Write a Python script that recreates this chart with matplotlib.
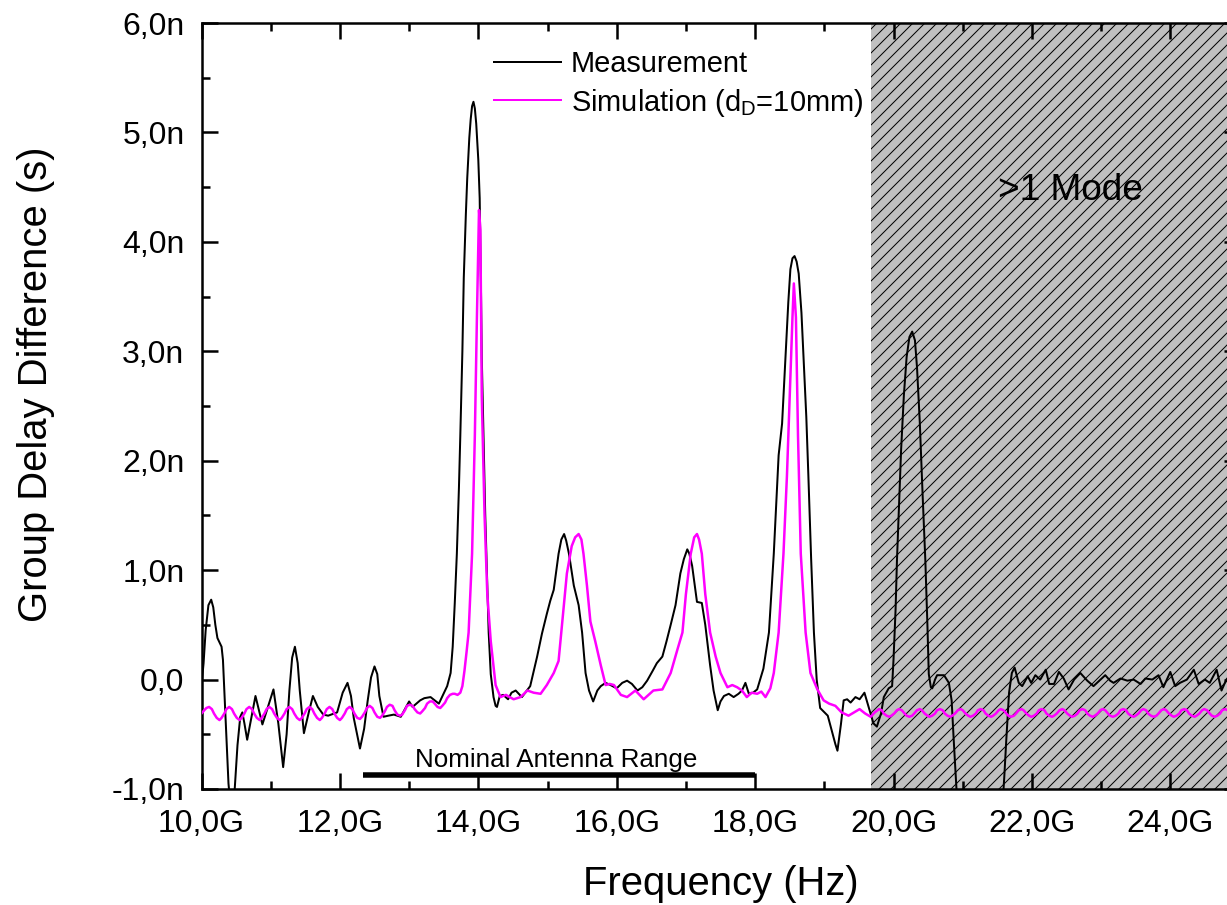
import numpy as np
import matplotlib
matplotlib.use("Agg")
import matplotlib.pyplot as plt

# ---------------- data (GHz, ns) ----------------
meas_freq = [10.00, 10.03, 10.06, 10.10, 10.14, 10.17, 10.20, 10.23, 10.26, 10.29, 10.31, 10.33,
             10.36, 10.39, 10.44, 10.48, 10.52, 10.56, 10.59, 10.62, 10.66, 10.72, 10.78, 10.83,
             10.88, 10.96, 11.04, 11.11, 11.18, 11.23, 11.27, 11.31, 11.35, 11.39, 11.42, 11.48,
             11.55, 11.61, 11.68, 11.76, 11.83, 11.96, 12.04, 12.11, 12.16, 12.20, 12.29, 12.35,
             12.40, 12.45, 12.50, 12.54, 12.57, 12.63, 12.70, 12.78, 12.88, 13.00, 13.05, 13.16,
             13.22, 13.31, 13.43, 13.55, 13.60, 13.63, 13.66, 13.69, 13.72, 13.74, 13.77, 13.79,
             13.82, 13.84, 13.87, 13.89, 13.91, 13.93, 13.95, 13.97, 14.00, 14.02, 14.04, 14.05,
             14.08, 14.10, 14.13, 14.15, 14.18, 14.22, 14.25, 14.27, 14.31, 14.36, 14.43, 14.48,
             14.54, 14.63, 14.75, 14.85, 14.92, 14.99, 15.04, 15.09, 15.16, 15.20, 15.24, 15.27,
             15.31, 15.38, 15.45, 15.50, 15.55, 15.60, 15.66, 15.72, 15.77, 15.84, 15.91, 16.00,
             16.08, 16.15, 16.22, 16.30, 16.37, 16.44, 16.52, 16.58, 16.66, 16.72, 16.78, 16.85,
             16.92, 16.97, 17.02, 17.05, 17.09, 17.16, 17.23, 17.28, 17.35, 17.40, 17.46, 17.50,
             17.55, 17.62, 17.69, 17.76, 17.81, 17.86, 17.91, 17.97, 18.03, 18.12, 18.20, 18.27,
             18.34, 18.39, 18.44, 18.48, 18.51, 18.54, 18.57, 18.60, 18.63, 18.67, 18.70, 18.74,
             18.77, 18.81, 18.85, 18.89, 18.92, 18.94, 19.05, 19.16, 19.19, 19.24, 19.28, 19.33,
             19.38, 19.45, 19.51, 19.58, 19.64, 19.71, 19.76, 19.82, 19.86, 19.93, 19.98, 20.00,
             20.03, 20.05, 20.08, 20.11, 20.15, 20.19, 20.23, 20.27, 20.31, 20.34, 20.38, 20.42,
             20.46, 20.49, 20.51, 20.54, 20.56, 20.60, 20.63, 20.73, 20.80, 20.84, 20.87, 20.91,
             20.95, 21.05, 21.30, 21.50, 21.57, 21.60, 21.63, 21.67, 21.71, 21.75, 21.81, 21.86,
             21.94, 21.99, 22.05, 22.12, 22.20, 22.25, 22.32, 22.39, 22.46, 22.53, 22.61, 22.70,
             22.80, 22.89, 23.01, 23.06, 23.13, 23.18, 23.28, 23.38, 23.47, 23.57, 23.64, 23.74,
             23.83, 23.90, 24.00, 24.07, 24.14, 24.24, 24.34, 24.41, 24.50, 24.57, 24.67, 24.74,
             24.81, 24.88, 24.95, 25.00]
meas_val = [-0.05, 0.15, 0.45, 0.68, 0.73, 0.66, 0.50, 0.38, 0.34, 0.30, 0.18, -0.10,
            -0.50, -0.95, -1.30, -1.00, -0.60, -0.34, -0.30, -0.40, -0.55, -0.35, -0.15, -0.28,
            -0.41, -0.25, -0.09, -0.40, -0.80, -0.50, -0.10, 0.20, 0.30, 0.15, -0.10, -0.49,
            -0.30, -0.15, -0.25, -0.32, -0.33, -0.30, -0.12, -0.03, -0.15, -0.35, -0.63, -0.45,
            -0.20, 0.02, 0.12, 0.05, -0.15, -0.34, -0.33, -0.32, -0.34, -0.20, -0.25, -0.19,
            -0.17, -0.16, -0.22, -0.06, 0.06, 0.30, 0.70, 1.15, 1.75, 2.23, 3.00, 3.67,
            4.25, 4.58, 4.95, 5.12, 5.24, 5.28, 5.22, 5.08, 4.75, 4.40, 3.50, 2.95,
            2.10, 1.51, 0.85, 0.43, 0.05, -0.16, -0.24, -0.25, -0.15, -0.14, -0.18, -0.12,
            -0.10, -0.16, -0.06, 0.21, 0.42, 0.60, 0.72, 0.82, 1.15, 1.28, 1.33, 1.27,
            1.15, 0.86, 0.68, 0.43, 0.06, -0.10, -0.20, -0.10, -0.06, -0.03, -0.05, -0.08,
            -0.03, -0.01, -0.04, -0.10, -0.07, -0.01, 0.08, 0.15, 0.21, 0.35, 0.50, 0.68,
            0.97, 1.10, 1.19, 1.15, 1.04, 0.71, 0.70, 0.50, 0.13, -0.10, -0.28, -0.20,
            -0.15, -0.13, -0.16, -0.13, -0.10, -0.03, -0.13, -0.12, -0.09, 0.10, 0.43, 1.15,
            2.05, 2.34, 2.95, 3.45, 3.75, 3.85, 3.87, 3.82, 3.71, 3.35, 2.95, 2.40,
            1.86, 1.10, 0.43, 0.00, -0.16, -0.26, -0.33, -0.59, -0.65, -0.41, -0.19, -0.18,
            -0.21, -0.16, -0.18, -0.12, -0.25, -0.40, -0.43, -0.31, -0.16, -0.08, -0.06, 0.18,
            0.64, 1.09, 1.60, 2.10, 2.60, 2.95, 3.13, 3.18, 3.10, 2.85, 2.35, 1.70,
            1.09, 0.50, 0.05, -0.07, -0.08, 0.00, 0.04, 0.04, -0.03, -0.19, -0.55, -1.00,
            -1.60, -2.40, -2.40, -1.80, -1.20, -0.90, -0.55, -0.12, 0.06, 0.11, -0.03, -0.06,
            0.03, -0.03, 0.04, 0.00, 0.09, -0.04, -0.04, 0.07, 0.01, -0.09, 0.00, 0.06,
            -0.01, -0.06, 0.01, 0.04, -0.01, -0.03, 0.01, -0.01, 0.00, -0.04, 0.01, 0.00,
            0.04, -0.07, 0.07, -0.06, -0.03, 0.00, 0.09, -0.04, 0.00, -0.03, 0.09, -0.10,
            0.00, 0.05, -0.02, 0.03]

# simulation: low-frequency ripple part
sim_left_freq = [10.00, 10.04, 10.07, 10.11, 10.15, 10.18, 10.22, 10.26, 10.29, 10.33, 10.36, 10.40,
                 10.44, 10.47, 10.51, 10.55, 10.58, 10.62, 10.65, 10.69, 10.73, 10.76, 10.80, 10.84,
                 10.87, 10.91, 10.94, 10.98, 11.02, 11.05, 11.09, 11.13, 11.16, 11.20, 11.23, 11.27,
                 11.31, 11.34, 11.38, 11.42, 11.45, 11.49, 11.52, 11.56, 11.60, 11.63, 11.67, 11.71,
                 11.74, 11.78, 11.81, 11.85, 11.89, 11.92, 11.96, 12.00, 12.03, 12.07, 12.10, 12.14,
                 12.18, 12.21, 12.25, 12.29, 12.32, 12.36, 12.39, 12.43, 12.47, 12.50, 12.54, 12.58,
                 12.61, 12.65, 12.68, 12.72, 12.76, 12.79, 12.83, 12.87, 12.90, 12.94, 12.97, 13.01,
                 13.05, 13.08, 13.12, 13.16, 13.19, 13.23, 13.26, 13.30, 13.34, 13.37, 13.41, 13.45,
                 13.48, 13.52, 13.55, 13.59, 13.63, 13.66, 13.70, 13.74, 13.77]
sim_left_val = [-0.31, -0.28, -0.26, -0.25, -0.27, -0.31, -0.35, -0.37, -0.35, -0.31, -0.27, -0.25,
                -0.27, -0.31, -0.35, -0.37, -0.35, -0.31, -0.27, -0.25, -0.27, -0.31, -0.35, -0.37,
                -0.35, -0.31, -0.27, -0.25, -0.27, -0.31, -0.35, -0.37, -0.35, -0.31, -0.27, -0.25,
                -0.27, -0.31, -0.35, -0.37, -0.35, -0.31, -0.27, -0.25, -0.27, -0.31, -0.35, -0.37,
                -0.35, -0.31, -0.27, -0.25, -0.27, -0.31, -0.35, -0.37, -0.35, -0.31, -0.27, -0.25,
                -0.27, -0.31, -0.35, -0.36, -0.34, -0.30, -0.26, -0.24, -0.26, -0.30, -0.34, -0.35,
                -0.33, -0.29, -0.25, -0.23, -0.24, -0.28, -0.32, -0.33, -0.32, -0.28, -0.24, -0.23,
                -0.24, -0.27, -0.30, -0.31, -0.29, -0.26, -0.22, -0.20, -0.20, -0.22, -0.25, -0.26,
                -0.24, -0.21, -0.17, -0.14, -0.13, -0.13, -0.14, -0.12, -0.06]

# simulation: resonance part
sim_mid_freq = [13.80, 13.83, 13.86, 13.91, 13.95, 13.98, 14.01, 14.03, 14.05, 14.09, 14.13, 14.18,
                14.25, 14.32, 14.40, 14.51, 14.61, 14.71, 14.80, 14.90, 14.99, 15.09, 15.16, 15.21,
                15.28, 15.35, 15.40, 15.45, 15.49, 15.52, 15.57, 15.62, 15.69, 15.77, 15.84, 15.90,
                15.96, 16.06, 16.15, 16.27, 16.39, 16.53, 16.66, 16.78, 16.88, 16.95, 17.00, 17.07,
                17.12, 17.16, 17.19, 17.23, 17.28, 17.35, 17.43, 17.50, 17.60, 17.67, 17.74, 17.81,
                17.88, 17.95, 18.03, 18.09, 18.15, 18.22, 18.27, 18.34, 18.41, 18.46, 18.50, 18.54,
                18.56, 18.59, 18.62, 18.66, 18.73, 18.80, 18.90, 18.99, 19.07, 19.16, 19.25, 19.35,
                19.43, 19.51, 19.59, 19.67, 19.73]
sim_mid_val = [0.08, 0.25, 0.43, 1.15, 2.23, 3.31, 4.29, 4.11, 2.59, 1.51, 0.78, 0.35,
               -0.05, -0.16, -0.14, -0.18, -0.16, -0.10, -0.12, -0.13, -0.05, 0.06, 0.17, 0.50,
               0.97, 1.22, 1.30, 1.33, 1.28, 1.15, 0.86, 0.53, 0.35, 0.13, -0.05, -0.04,
               -0.05, -0.14, -0.16, -0.10, -0.18, -0.10, -0.09, 0.06, 0.28, 0.43, 0.78, 1.15,
               1.30, 1.33, 1.28, 1.15, 0.78, 0.43, 0.21, 0.06, -0.07, -0.05, -0.07, -0.10,
               -0.16, -0.12, -0.13, -0.11, -0.16, -0.08, 0.06, 0.43, 1.15, 1.86, 2.59, 3.31,
               3.62, 3.31, 2.23, 1.15, 0.43, 0.06, -0.09, -0.19, -0.22, -0.24, -0.30, -0.33,
               -0.30, -0.27, -0.31, -0.34, -0.30]

# simulation: high-frequency ripple part
sim_right_freq = [19.79, 19.83, 19.86, 19.90, 19.94, 19.97, 20.01, 20.05,
                  20.08, 20.12, 20.16, 20.19, 20.23, 20.27, 20.30, 20.34,
                  20.38, 20.41, 20.45, 20.49, 20.52, 20.56, 20.60, 20.63,
                  20.67, 20.71, 20.74, 20.78, 20.82, 20.85, 20.89, 20.93,
                  20.97, 21.00, 21.04, 21.08, 21.11, 21.15, 21.19, 21.22,
                  21.26, 21.30, 21.33, 21.37, 21.41, 21.44, 21.48, 21.52,
                  21.55, 21.59, 21.63, 21.66, 21.70, 21.74, 21.77, 21.81,
                  21.85, 21.88, 21.92, 21.96, 21.99, 22.03, 22.07, 22.10,
                  22.14, 22.18, 22.21, 22.25, 22.29, 22.32, 22.36, 22.40,
                  22.44, 22.47, 22.51, 22.55, 22.58, 22.62, 22.66, 22.69,
                  22.73, 22.77, 22.80, 22.84, 22.88, 22.91, 22.95, 22.99,
                  23.02, 23.06, 23.10, 23.13, 23.17, 23.21, 23.25, 23.28,
                  23.32, 23.36, 23.39, 23.43, 23.47, 23.50, 23.54, 23.58,
                  23.61, 23.65, 23.68, 23.72, 23.76, 23.80, 23.83, 23.87,
                  23.91, 23.94, 23.98, 24.02, 24.05, 24.09, 24.13, 24.16,
                  24.20, 24.24, 24.27, 24.31, 24.35, 24.38, 24.42, 24.46,
                  24.49, 24.53, 24.57, 24.60, 24.64, 24.68, 24.72, 24.75,
                  24.79, 24.83, 24.86, 24.90, 24.94, 24.97, 25.01, 25.05]
sim_right_val = [-0.27, -0.28, -0.31, -0.33, -0.34, -0.33, -0.31, -0.28,
                 -0.27, -0.28, -0.31, -0.33, -0.34, -0.33, -0.31, -0.28,
                 -0.27, -0.28, -0.31, -0.33, -0.34, -0.33, -0.31, -0.28,
                 -0.27, -0.28, -0.31, -0.33, -0.34, -0.33, -0.31, -0.28,
                 -0.27, -0.28, -0.31, -0.33, -0.34, -0.33, -0.31, -0.28,
                 -0.27, -0.28, -0.31, -0.33, -0.34, -0.33, -0.31, -0.28,
                 -0.27, -0.28, -0.31, -0.33, -0.34, -0.33, -0.31, -0.28,
                 -0.27, -0.28, -0.31, -0.33, -0.34, -0.33, -0.31, -0.28,
                 -0.27, -0.28, -0.31, -0.33, -0.34, -0.33, -0.31, -0.28,
                 -0.27, -0.28, -0.31, -0.33, -0.34, -0.33, -0.31, -0.28,
                 -0.27, -0.28, -0.31, -0.33, -0.34, -0.33, -0.31, -0.28,
                 -0.27, -0.28, -0.31, -0.33, -0.34, -0.33, -0.31, -0.28,
                 -0.27, -0.28, -0.31, -0.33, -0.34, -0.33, -0.31, -0.28,
                 -0.27, -0.28, -0.31, -0.33, -0.34, -0.33, -0.31, -0.28,
                 -0.27, -0.28, -0.31, -0.33, -0.34, -0.33, -0.31, -0.28,
                 -0.27, -0.28, -0.31, -0.33, -0.34, -0.33, -0.31, -0.28,
                 -0.27, -0.28, -0.31, -0.33, -0.34, -0.33, -0.31, -0.28,
                 -0.27, -0.28, -0.31, -0.33, -0.34, -0.33, -0.31, -0.28]

x_ticks = [10, 12, 14, 16, 18, 20, 22, 24]
x_tick_labels = ["10,0G", "12,0G", "14,0G", "16,0G", "18,0G", "20,0G", "22,0G", "24,0G"]
y_ticks = [-1, 0, 1, 2, 3, 4, 5, 6]
y_tick_labels = ["-1,0n", "0,0", "1,0n", "2,0n", "3,0n", "4,0n", "5,0n", "6,0n"]

multimode_start = 19.68
nominal_range = [12.33, 18.0]
nominal_level = -0.872

sim_freq = sim_left_freq + sim_mid_freq + sim_right_freq
sim_val = sim_left_val + sim_mid_val + sim_right_val

# ---------------- style ----------------
plt.rcParams['font.family'] = ['Liberation Sans', 'DejaVu Sans']
plt.rcParams['mathtext.fontset'] = 'custom'
plt.rcParams['mathtext.rm'] = 'Liberation Sans'
plt.rcParams['mathtext.it'] = 'Liberation Sans:italic'
plt.rcParams['mathtext.default'] = 'regular'
plt.rcParams['hatch.linewidth'] = 1.0
plt.rcParams['hatch.color'] = 'black'

DPI = 72
W, H = 1227, 905
fig = plt.figure(figsize=(W / DPI, H / DPI), dpi=DPI)
fig.patch.set_facecolor('white')

ax_l, ax_r, ax_t, ax_b = 201.5, 1239.5, 23.0, 789.0
ax = fig.add_axes([ax_l / W, 1 - ax_b / H, (ax_r - ax_l) / W, (ax_b - ax_t) / H])

ax.set_xlim(10, 25)
ax.set_ylim(-1, 6)

ax.axvspan(multimode_start, 25, facecolor='#c0c0c0', edgecolor='black', hatch='//',
           linewidth=0, zorder=0)

ax.plot(meas_freq, meas_val, color='black', lw=2.0, zorder=3, label='Measurement')
ax.plot(sim_freq, sim_val, color='#ff00ff', lw=2.5, zorder=4,
        label=r'Simulation (d$_{D}$=10mm)')

ax.plot(nominal_range, [nominal_level, nominal_level], color='black', lw=5.5,
        solid_capstyle='butt', zorder=5)
ax.text(15.12, -0.80, 'Nominal Antenna Range', fontsize=26, ha='center', va='baseline')
ax.text(22.56, 4.384, '>1 Mode', fontsize=37, ha='center', va='baseline')

ax.set_xticks(x_ticks)
ax.set_xticklabels(x_tick_labels)
ax.set_yticks(y_ticks)
ax.set_yticklabels(y_tick_labels)
ax.set_xticks(np.arange(11, 25, 2), minor=True)
ax.set_yticks(np.arange(-0.5, 6, 1), minor=True)
ax.tick_params(which='both', direction='in', top=True, right=True, width=2.5, color='black')
ax.tick_params(which='major', length=16, labelsize=32)
ax.tick_params(which='minor', length=8)
ax.tick_params(axis='x', which='major', pad=20)
ax.tick_params(axis='y', which='major', pad=17)
for s in ax.spines.values():
    s.set_linewidth(2.5)

ax.set_xlabel('Frequency (Hz)', fontsize=40, va='baseline')
ax.xaxis.set_label_coords(0.5, (ax_b - 895) / (ax_b - ax_t))
ax.set_ylabel('Group Delay Difference (s)', fontsize=40, va='baseline')
ax.yaxis.set_label_coords((47 - ax_l) / (ax_r - ax_l), (ax_b - 384) / (ax_b - ax_t))

leg = ax.legend(loc='upper left', bbox_to_anchor=(494 / W, 1 - 50.5 / H),
                bbox_transform=fig.transFigure, frameon=False, fontsize=29,
                handlelength=2.31, handletextpad=0.34, labelspacing=0.28,
                borderpad=0, borderaxespad=0)
for ln in leg.get_lines():
    ln.set_linewidth(2.0)

fig.savefig('out.png', dpi=DPI)
